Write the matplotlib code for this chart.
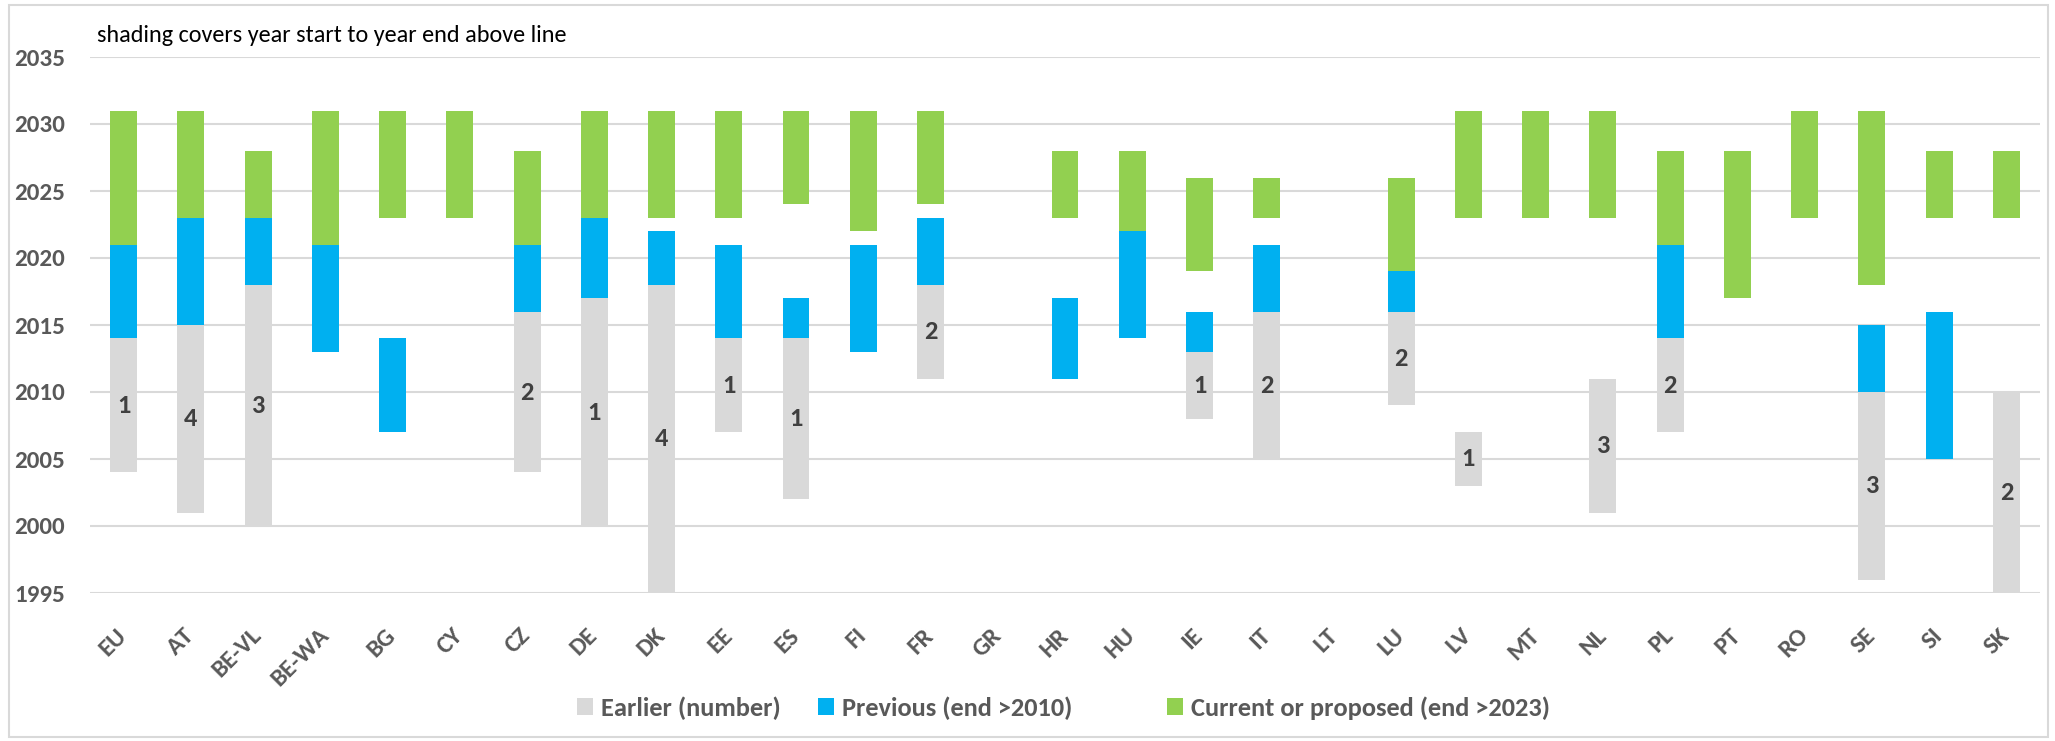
import numpy as np
import matplotlib
matplotlib.use("Agg")
import matplotlib.pyplot as plt
from matplotlib.patches import Patch, Rectangle

N = np.nan
countries = ["EU", "AT", "BE-VL", "BE-WA", "BG", "CY", "CZ", "DE", "DK", "EE", "ES", "FI", "FR", "GR",
             "HR", "HU", "IE", "IT", "LT", "LU", "LV", "MT", "NL", "PL", "PT", "RO", "SE", "SI", "SK"]

earlier_start = [2004, 2001, 2000, N, N, N, 2004, 2000, 1995, 2007, 2002, N, 2011, N,
                 N, N, 2008, 2005, N, 2009, 2003, N, 2001, 2007, N, N, 1996, N, 1995]
earlier_end = [2014, 2015, 2018, N, N, N, 2016, 2017, 2018, 2014, 2014, N, 2018, N,
               N, N, 2013, 2016, N, 2016, 2007, N, 2011, 2014, N, N, 2010, N, 2010]
earlier_count = [1, 4, 3, N, N, N, 2, 1, 4, 1, 1, N, 2, N,
                 N, N, 1, 2, N, 2, 1, N, 3, 2, N, N, 3, N, 2]

previous_start = [2014, 2015, 2018, 2013, 2007, N, 2016, 2017, 2018, 2014, 2014, 2013, 2018, N,
                  2011, 2014, 2013, 2016, N, 2016, N, N, N, 2014, N, N, 2010, 2005, N]
previous_end = [2021, 2023, 2023, 2021, 2014, N, 2021, 2023, 2022, 2021, 2017, 2021, 2023, N,
                2017, 2022, 2016, 2021, N, 2019, N, N, N, 2021, N, N, 2015, 2016, N]

current_start = [2021, 2023, 2023, 2021, 2023, 2023, 2021, 2023, 2023, 2023, 2024, 2022, 2024, N,
                 2023, 2022, 2019, 2023, N, 2019, 2023, 2023, 2023, 2021, 2017, 2023, 2018, 2023, 2023]
current_end = [2031, 2031, 2028, 2031, 2031, 2031, 2028, 2031, 2031, 2031, 2031, 2031, 2031, N,
               2028, 2028, 2026, 2026, N, 2026, 2031, 2031, 2031, 2028, 2028, 2031, 2031, 2028, 2028]

series_names = ["Earlier (number)", "Previous (end >2010)", "Current or proposed (end >2023)"]
colors = ["#D9D9D9", "#00B0F0", "#92D050"]
yticks = [1995, 2000, 2005, 2010, 2015, 2020, 2025, 2030, 2035]
title_text = "shading covers year start to year end above line"

FAM = "Carlito"
plt.rcParams["font.family"] = [FAM, "DejaVu Sans"]

W, H = 2055, 741
fig = plt.figure(figsize=(W / 100, H / 100), dpi=100)
ax = fig.add_axes([90 / W, 1 - 593 / H, (2040 - 90) / W, (593 - 57) / H])

x = np.arange(len(countries))
bw = 0.4
for starts, ends, col in [(earlier_start, earlier_end, colors[0]),
                          (previous_start, previous_end, colors[1]),
                          (current_start, current_end, colors[2])]:
    s = np.array(starts, dtype=float)
    e = np.array(ends, dtype=float)
    m = ~np.isnan(s)
    ax.bar(x[m], (e - s)[m], bottom=s[m], width=bw, color=col, zorder=3, linewidth=0)

es = np.array(earlier_start, dtype=float)
ee = np.array(earlier_end, dtype=float)
for i, c in enumerate(earlier_count):
    if not np.isnan(c):
        ax.text(x[i], (es[i] + ee[i]) / 2, str(int(c)), ha="center", va="center",
                fontsize=19, fontweight="bold", family=FAM, color="#404040", zorder=4)

ax.set_xlim(-0.5, len(countries) - 0.5)
ax.set_ylim(1995, 2035)
ax.set_yticks(yticks)
ax.set_yticklabels([str(t) for t in yticks], fontsize=18, fontweight="bold", family=FAM,
                   color="#595959")
ax.set_xticks(x)
ax.set_xticklabels(countries, rotation=45, ha="right", va="center", rotation_mode="anchor",
                   fontsize=18, fontweight="bold", family=FAM, color="#595959")
ax.tick_params(axis="y", length=0, pad=18)
ax.tick_params(axis="x", length=0, pad=28)
ax.grid(axis="y", color="#D9D9D9", linewidth=1.5, zorder=0)
ax.set_axisbelow(True)
for sp in ax.spines.values():
    sp.set_visible(False)

fig.text(97 / W, 1 - 36 / H, title_text, fontsize=17.4, family=FAM, color="black",
         ha="left", va="center")

legend_x = [577, 818, 1167]
for name, col, lx in zip(series_names, colors, legend_x):
    leg = fig.legend(handles=[Patch(facecolor=col, edgecolor="none")], labels=[name],
                     loc="center left", bbox_to_anchor=(lx / W, 1 - 708 / H),
                     frameon=False, borderpad=0, borderaxespad=0,
                     handlelength=0.6, handleheight=0.6, handletextpad=0.3,
                     prop={"size": 19, "weight": "bold", "family": FAM})
    for t in leg.get_texts():
        t.set_color("#595959")

fig.patches.append(Rectangle((9 / W, 4 / H), (2048 - 9) / W, (737 - 5) / H,
                             transform=fig.transFigure, fill=False,
                             edgecolor="#D9D9D9", linewidth=1.5))

fig.savefig("out.png", dpi=100)
